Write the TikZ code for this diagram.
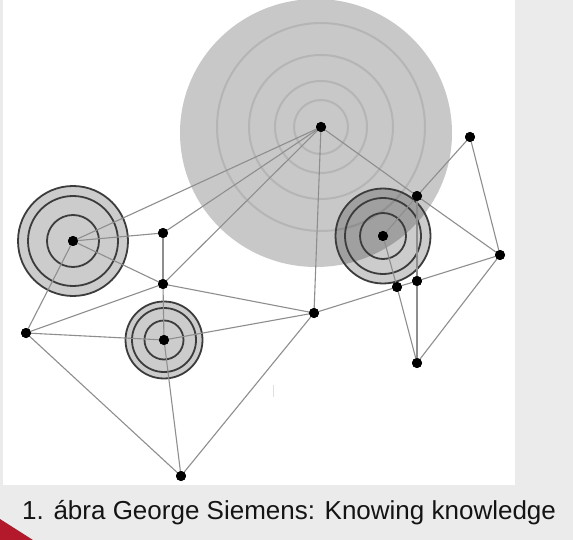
\documentclass[tikz,border=0pt]{standalone}
\usepackage{fontspec}
\setmainfont{Liberation Sans}
\begin{document}
\begin{tikzpicture}[x=1pt,y=-1pt,
  dot/.style={circle,fill=black,inner sep=0pt,minimum size=10pt},
  edge/.style={draw=edgegray,line width=1.1pt},
  blobring/.style={draw=ringgray,line width=2pt},
  trgfill/.style={fill=black,fill opacity=0.2},
  trgring/.style={draw=darkring,line width=1.8pt}]
\definecolor{edgegray}{HTML}{8E8E8E}
\definecolor{ringgray}{HTML}{B5B5B5}
\definecolor{blobgray}{HTML}{C8C8C8}
\definecolor{darkring}{HTML}{3C3C3C}
\definecolor{bggray}{HTML}{EBEBEB}
\definecolor{capred}{HTML}{B3192B}
\useasboundingbox (0,0) rectangle (573,540);
% background
\fill[bggray] (0,0) rectangle (573,540);
\fill[white] (3,0) rectangle (515,485);
\fill[capred] (0,519) -- (0,540) -- (33,540) -- cycle;
% big blob
\fill[blobgray] (316,133) ellipse [x radius=136pt, y radius=134pt];
\foreach \r in {27,46,72,104}
  \draw[blobring] (321,127) circle [radius=\r pt];
% targets
\fill[trgfill] (73,241) circle [radius=55pt];
\foreach \r in {55,45,26} \draw[trgring] (73,241) circle [radius=\r pt];
\fill[trgfill] (164,340) circle [radius=38.5pt];
\foreach \r in {38.5,32,19.5} \draw[trgring] (164,340) circle [radius=\r pt];
\fill[trgfill] (383,236) circle [radius=47.5pt];
\foreach \r in {47.5,38,23} \draw[trgring] (383,236) circle [radius=\r pt];
% faint artifact
\draw[black!12,line width=1pt] (273,385) -- (273,397);
% nodes
\node[dot] (C) at (321,127) {};
\node[dot] (L) at (73,241) {};
\node[dot] (A) at (163,233) {};
\node[dot] (B) at (163,284) {};
\node[dot] (D) at (26,333) {};
\node[dot] (M) at (164,340) {};
\node[dot] (E) at (314,313) {};
\node[dot] (F) at (181,476) {};
\node[dot] (R) at (383,236) {};
\node[dot] (G) at (417,196) {};
\node[dot] (H) at (470,137) {};
\node[dot] (I) at (500,255) {};
\node[dot] (J) at (397,287) {};
\node[dot] (K) at (417,281) {};
\node[dot] (N) at (417,363) {};
% edges
\foreach \a/\b in {C/L,C/A,C/B,C/E,C/G,G/I,R/G,G/H,H/I,G/K,K/N,R/J,J/N,I/N,E/J,J/K,K/I,
  L/A,L/B,L/D,A/B,B/M,D/B,D/M,D/F,B/E,M/E,M/F,E/F}
  \draw[edge] (\a.center) -- (\b.center);
% redraw dots on top
\foreach \n in {C,L,A,B,D,M,E,F,R,G,H,I,J,K,N}
  \fill[black] (\n) circle [radius=5pt];
% caption
\node[anchor=base west,inner sep=0pt,font=\fontsize{26}{30}\selectfont,text=black!92] (cap) at (22,519) {1. ábra George Siemens: Knowing knowledge};
\end{tikzpicture}
\end{document}
